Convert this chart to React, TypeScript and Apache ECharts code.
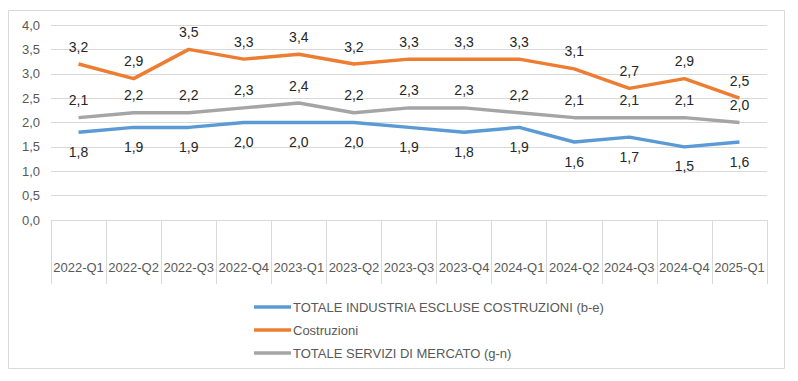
import React, { useEffect, useRef } from "react";
import * as echarts from "echarts";

const categories = [
  "2022-Q1", "2022-Q2", "2022-Q3", "2022-Q4",
  "2023-Q1", "2023-Q2", "2023-Q3", "2023-Q4",
  "2024-Q1", "2024-Q2", "2024-Q3", "2024-Q4", "2025-Q1",
];
const industria = [1.8, 1.9, 1.9, 2.0, 2.0, 2.0, 1.9, 1.8, 1.9, 1.6, 1.7, 1.5, 1.6];
const costruzioni = [3.2, 2.9, 3.5, 3.3, 3.4, 3.2, 3.3, 3.3, 3.3, 3.1, 2.7, 2.9, 2.5];
const servizi = [2.1, 2.2, 2.2, 2.3, 2.4, 2.2, 2.3, 2.3, 2.2, 2.1, 2.1, 2.1, 2.0];

const seriesNames = [
  "TOTALE INDUSTRIA ESCLUSE COSTRUZIONI (b-e)",
  "Costruzioni",
  "TOTALE SERVIZI DI MERCATO (g-n)",
];
const colors = ["#5B9BD5", "#ED7D31", "#A5A5A5"];

const fmt = (v: number) => v.toFixed(1).replace(".", ",");
const FONT = "'Liberation Sans', Arial, sans-serif";

export default function App() {
  const ref = useRef<HTMLDivElement>(null);
  useEffect(() => {
    if (!ref.current) return;
    const chart = echarts.init(ref.current, null, { renderer: "svg" });
    const mk = (name: string, data: number[], color: string, pos: "top" | "bottom", dist: number) => ({
      name,
      type: "line",
      data,
      symbol: "circle",
      symbolSize: 1,
      showSymbol: true,
      lineStyle: { color, width: 3.5 },
      itemStyle: { color: "rgba(0,0,0,0)", borderWidth: 0 },
      label: {
        show: true,
        position: pos,
        distance: dist,
        formatter: (p: any) => fmt(p.value),
        fontSize: 14,
        color: "#262626",
        fontFamily: FONT,
      },
    });
    chart.setOption({
      animation: false,
      backgroundColor: "#ffffff",
      textStyle: { fontFamily: FONT },
      graphic: [
        {
          type: "rect",
          shape: { x: 8.5, y: 10.5, width: 776, height: 358 },
          style: { fill: "none", stroke: "#d9d9d9", lineWidth: 1 },
          silent: true,
          z: -1,
        },
      ],
      grid: { left: 51, right: 31, top: 25, bottom: 161 },
      legend: {
        orient: "vertical",
        left: 249,
        top: 295,
        icon: "rect",
        itemWidth: 37,
        itemHeight: 3.5,
        itemGap: 9,
        data: seriesNames.map((n, i) => ({ name: n, itemStyle: { color: colors[i], opacity: 1 } })),
        textStyle: { fontSize: 13, color: "#595959", fontFamily: FONT, padding: [0, 0, 0, -3], height: 14, lineHeight: 14 },
      },
      xAxis: {
        type: "category",
        data: categories,
        boundaryGap: true,
        axisLine: { lineStyle: { color: "#d9d9d9" } },
        axisTick: { show: true, interval: 0, length: 64, lineStyle: { color: "#d9d9d9" } },
        axisLabel: { interval: 0, margin: 41, fontSize: 13, color: "#595959", fontFamily: FONT },
        splitLine: { show: false },
      },
      yAxis: {
        type: "value",
        min: 0,
        max: 4,
        interval: 0.5,
        axisLine: { show: false },
        axisTick: { show: false },
        axisLabel: { formatter: (v: number) => fmt(v), fontSize: 13, color: "#595959", margin: 11, fontFamily: FONT },
        splitLine: { lineStyle: { color: "#d9d9d9" } },
      },
      series: [
        mk(seriesNames[0], industria, colors[0], "bottom", 12),
        mk(seriesNames[1], costruzioni, colors[1], "top", 10),
        mk(seriesNames[2], servizi, colors[2], "top", 10),
      ],
    });
    return () => chart.dispose();
  }, []);
  return (
    <div style={{ position: "absolute", left: 0, top: 0 }}>
      <div ref={ref} style={{ width: 798, height: 381 }} />
    </div>
  );
}
